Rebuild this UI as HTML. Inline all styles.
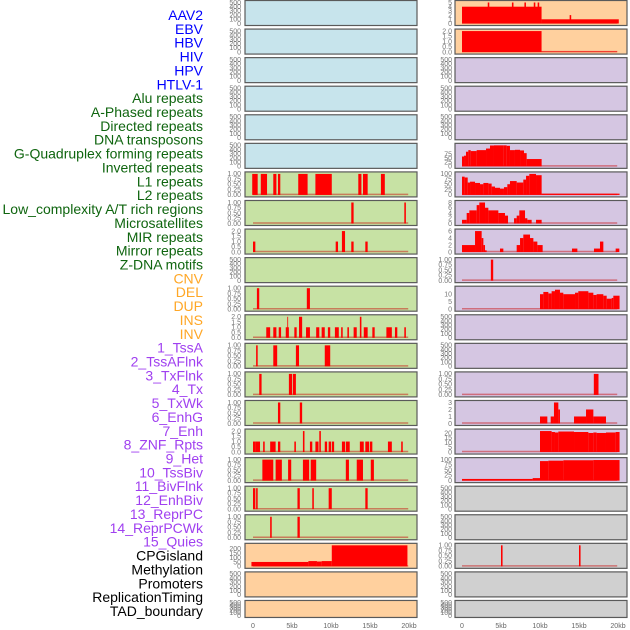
<!DOCTYPE html>
<html><head><meta charset="utf-8"><style>
html,body{margin:0;padding:0;background:#fff;}
svg{display:block;font-family:"Liberation Sans",sans-serif;}
</style></head><body>
<svg id="chart" width="630" height="630" viewBox="0 0 630 630" xmlns="http://www.w3.org/2000/svg"></svg>
<script>
const NS="http://www.w3.org/2000/svg";
const trackLabels=["AAV2","EBV","HBV","HIV","HPV","HTLV-1","Alu repeats","A-Phased repeats","Directed repeats","DNA transposons","G-Quadruplex forming repeats","Inverted repeats","L1 repeats","L2 repeats","Low_complexity A/T rich regions","Microsatellites","MIR repeats","Mirror repeats","Z-DNA motifs","CNV","DEL","DUP","INS","INV","1_TssA","2_TssAFlnk","3_TxFlnk","4_Tx","5_TxWk","6_EnhG","7_Enh","8_ZNF_Rpts","9_Het","10_TssBiv","11_BivFlnk","12_EnhBiv","13_ReprPC","14_ReprPCWk","15_Quies","CPGisland","Methylation","Promoters","ReplicationTiming","TAD_boundary"];
const labelGroups=[6,13,5,15,5];
const groupColors=["#0000ff","#0f650f","#ffa726","#a040f0","#000000"];
const xTickVals=[0,5,10,15,20];
const xTickLabels=["0","5kb","10kb","15kb","20kb"];
const ticksEmpty=[0,100,200,300,400,500];
const ticks1=[0,0.25,0.5,0.75,1];
const ticks2=[0,0.5,1,1.5,2];
const L6=[[-0.1,0.6,1],[1.0,1.8,1],[2.6,3.0,1],[3.2,3.5,1],[5.8,7.0,1],[8.0,10.1,1],[13.5,13.9,1],[14.1,14.7,1],[16.4,16.9,1]];
const L7=[[12.6,12.9,1],[19.4,19.6,1]];
const L8=[[0,0.3,1],[10.6,10.9,1],[11.4,11.8,2],[12.6,12.9,1],[14.4,14.7,1]];
const L10=[[0.5,0.8,1],[6.9,7.3,1]];
const L11=[[1.7,2.2,1],[2.6,3.0,1],[3.3,3.6,1],[4.2,4.6,1],[4.4,4.5,2],[5.3,5.6,1],[5.9,6.3,2],[6.8,7.3,1],[8.1,8.5,1],[8.8,9.2,1],[9.6,9.9,1],[10.5,11.0,1],[11.3,11.5,1],[12.1,12.3,1],[12.9,13.3,1],[13.7,13.9,2],[14.2,14.7,1],[15.3,15.6,1],[17.1,17.8,1],[18.2,18.5,1],[19.4,19.6,1]];
const L12=[[0.4,0.6,1],[2.6,3.1,1],[5.5,5.9,1],[9.2,9.9,1]];
const L13=[[0.8,1.1,1],[4.6,5.0,1],[5.1,5.5,1]];
const L14=[[3.2,3.5,1],[6.0,6.3,1]];
const L15=[[0,0.3,1],[0.3,0.9,1],[1.3,1.5,1],[2.2,2.9,1],[3.2,3.5,1],[5.3,5.5,1],[6.4,6.6,2],[7.3,7.6,1],[8.0,8.4,1],[8.5,8.7,2],[9.2,9.5,1],[9.7,10.0,1],[10.1,10.4,1],[11.4,11.8,1],[11.9,12.4,1],[13.7,14.2,1],[14.4,14.9,1],[15.0,15.3,1],[17.3,17.8,1],[19.0,19.2,1]];
const L16=[[1.2,2.6,1],[2.9,3.7,1],[4.5,4.9,1],[6.4,7.2,1],[7.4,8.1,1],[11.9,12.3,1],[13.3,14.1,1],[15.1,15.5,1]];
const L17=[[0,0.3,1],[0.4,0.6,1],[5.7,6.0,1],[7.6,7.8,1],[9.7,10.1,1],[14.4,14.7,1]];
const L18=[[2.2,2.4,1],[5.7,6.0,1]];
const L19=[[-0.2,7.1,50],[7.1,8.2,60],[8.2,8.8,55],[8.8,10.1,60],[10.1,19.8,240]];
const R0=[[0,10.2,4],[3.3,3.5,5],[6.4,6.6,5],[8.0,8.2,5],[9.2,9.4,5],[9.7,9.9,5],[10.2,20.1,1],[13.8,14.0,2]];
const R1=[[0,10.2,2],[10.2,19.9,0.05]];
const R5=[[0,0.26,62],[0.26,0.51,67],[0.51,0.81,92],[0.81,1.11,102],[1.11,1.88,96],[1.88,3.08,102],[3.08,3.59,112],[3.59,4.10,131],[4.10,5.30,145],[5.30,5.73,137],[5.73,6.15,129],[6.15,6.79,102],[6.79,7.44,104],[7.44,7.95,100],[7.95,8.29,83],[8.29,10.21,46]];
const R6=[[0,0.34,87],[0.34,0.73,83],[0.73,1.03,59],[1.03,1.67,63],[1.67,2.31,57],[2.31,2.74,51],[2.74,3.38,57],[3.38,3.80,54],[3.80,4.23,40],[4.23,4.87,34],[4.87,5.38,30],[5.38,5.81,37],[5.81,6.15,51],[6.15,7.01,66],[7.01,7.86,59],[7.86,8.21,73],[8.21,8.63,91],[8.63,9.49,100],[9.49,10.21,94],[10.21,20.2,6]];
const R7=[[0,0.60,1.4],[0.60,0.94,4],[0.94,1.88,5],[1.88,2.22,7],[2.22,2.95,8],[2.95,3.38,6],[3.38,4.66,5],[4.66,5.51,4],[5.51,5.90,3],[6.67,7.01,2],[7.01,7.35,3],[7.35,8.08,5],[8.08,8.38,2],[8.38,8.93,1.4],[9.49,10.21,1.4]];
const R8=[[0,1.67,2],[1.67,2.52,6],[2.52,2.74,4],[2.74,2.95,2],[2.95,3.16,0.5],[4.87,5.30,1],[7.01,7.44,2],[7.44,7.86,4],[7.86,8.72,5],[8.72,9.15,4],[9.15,9.66,3],[9.66,10.34,2],[14.10,14.79,1],[16.92,17.69,1],[17.69,18.12,3],[19.70,20.17,1]];
const R9=[[3.7,4.0,1]];
const R10=[[10.0,10.43,10],[10.43,11.07,11.5],[11.07,11.49,10.5],[11.49,11.92,12],[11.92,12.56,13],[12.56,12.99,11],[12.99,14.49,10],[14.49,14.91,11],[14.91,16.20,12],[16.20,16.84,11],[16.84,17.26,9.5],[17.26,18.12,10],[18.12,18.55,9],[18.55,19.19,7],[19.19,19.40,7.5],[19.40,20.2,9]];
const R13=[[16.9,17.5,1]];
const R14=[[10.0,10.94,1],[11.37,11.79,1],[11.79,12.35,3],[12.35,12.56,2],[14.36,15.90,1],[15.90,16.84,2],[16.84,18.46,1]];
const R15=[[10.0,11.49,22],[11.49,11.92,21],[11.92,12.35,20.5],[12.35,14.36,21.5],[14.36,16.2,21],[16.2,16.84,20],[16.84,17.26,20.5],[17.26,18.46,20],[18.46,19.70,20.5],[19.70,20.2,21]];
const R16=[[0,9.06,8],[9.06,10.0,12],[10.0,11.07,93],[11.07,13.0,95],[13.0,16.84,97],[16.84,20.2,98]];
const R19=[[5.0,5.2,1],[15.0,15.2,1]];

const leftBg=["#c7e4ec","#c7e4ec","#c7e4ec","#c7e4ec","#c7e4ec","#c7e4ec","#c7e2a4","#c7e2a4","#c7e2a4","#c7e2a4","#c7e2a4","#c7e2a4","#c7e2a4","#c7e2a4","#c7e2a4","#c7e2a4","#c7e2a4","#c7e2a4","#c7e2a4","#ffd09e","#ffd09e","#ffd09e"];
const rightBg=["#ffd09e","#ffd09e","#d5c6e2","#d5c6e2","#d5c6e2","#d5c6e2","#d5c6e2","#d5c6e2","#d5c6e2","#d5c6e2","#d5c6e2","#d5c6e2","#d5c6e2","#d5c6e2","#d5c6e2","#d5c6e2","#d5c6e2","#d0d0d0","#d0d0d0","#d0d0d0","#d0d0d0","#d0d0d0"];
const leftData=[null,null,null,null,null,null,L6,L7,L8,null,L10,L11,L12,L13,L14,L15,L16,L17,L18,L19,null,null];
const leftMax=[500,500,500,500,500,500,1,1,2,500,1,2,1,1,1,2,1,1,1,240,500,500];
const leftTicks=[ticksEmpty,ticksEmpty,ticksEmpty,ticksEmpty,ticksEmpty,ticksEmpty,ticks1,ticks1,ticks2,ticksEmpty,ticks1,ticks2,ticks1,ticks1,ticks1,ticks2,ticks1,ticks1,ticks1,[0,50,100,150,200],ticksEmpty,ticksEmpty];
const rightData=[R0,R1,null,null,null,R5,R6,R7,R8,R9,R10,null,null,R13,R14,R15,R16,null,null,R19,null,null];
const rightMax=[5,2,500,500,500,132,100,8,6,1,14,500,500,1,3,22,100,500,500,1,500,500];
const rightTicks=[[0,1,2,3,4,5],ticks2,ticksEmpty,ticksEmpty,ticksEmpty,[0,25,50,75],[0,25,50,75,100],[0,2,4,6,8],[0,2,4,6],ticks1,[0,5,10],ticksEmpty,ticksEmpty,ticks1,[0,1,2,3],[0,5,10,15,20],[0,25,50,75,100],ticksEmpty,ticksEmpty,ticks1,ticksEmpty,ticksEmpty];

const svg=document.getElementById('chart');
function mk(tag,attrs,parent){const e=document.createElementNS(NS,tag);for(const k in attrs)e.setAttribute(k,attrs[k]);(parent||svg).appendChild(e);return e;}
function fmt(v,ticks){const dec=ticks.some(t=>Math.abs(t-Math.round(t))>1e-9);if(!dec)return String(v);const two=ticks.some(t=>Math.abs(t*2-Math.round(t*2))>1e-9);return v.toFixed(two?2:1);}

let li=0;
labelGroups.forEach((n,g)=>{for(let k=0;k<n;k++){const t=mk('text',{x:203,y:20+li*13.86,'text-anchor':'end','font-size':'14',fill:groupColors[g]});


t.textContent=trackLabels[li];li++;}});

function rowTop(i){return i*28.57;}
function rowH(i){return i===21?17:25;}

function panel(col,i,bg,data,ymax,ticks){
  const px=col===0?245:455, pw=172, x0=col===0?253:462, kb=7.8;
  const top=rowTop(i), h=rowH(i);
  const g=mk('g',{});
  
  
  mk('rect',{x:px,y:top+0.5,width:pw,height:h,fill:bg,stroke:'#5a5a5a','stroke-width':1.2},g);
  const yb=top+h-1.5, yt=top+2.5;
  const X=v=>x0+v*kb;
  const Y=v=>yb-(v/ymax)*(yb-yt);
  ticks.forEach(t=>{const tx=mk('text',{x:col===0?241:452,y:Y(t)+2.3,'text-anchor':'end','font-size':'7',fill:'#777'},g);
    
    
    tx.textContent=fmt(t,ticks);});
  if(data){
    const bl=mk('line',{x1:X(0),x2:X(19.9),y1:yb-0.5,y2:yb-0.5,stroke:'rgba(200,0,0,0.45)','stroke-width':1.5},g);
    
    
    data.forEach(d=>{const y=Y(Math.min(d[2],ymax));const r=mk('rect',{x:X(d[0]),y:y,width:Math.max(0.8,X(d[1])-X(d[0])),height:Math.max(0.5,yb-y),fill:'#ff0000'},g);
      
      });
  }
}
for(let i=0;i<22;i++){panel(0,i,leftBg[i],leftData[i],leftMax[i],leftTicks[i]);panel(1,i,rightBg[i],rightData[i],rightMax[i],rightTicks[i]);}

[253,462].forEach((x0,c)=>{xTickVals.forEach((v,k)=>{const t=mk('text',{x:x0+v*7.8,y:628,'text-anchor':'middle','font-size':'7',fill:'#666'});
  
  
  t.textContent=xTickLabels[k];});});
</script>
</body></html>
